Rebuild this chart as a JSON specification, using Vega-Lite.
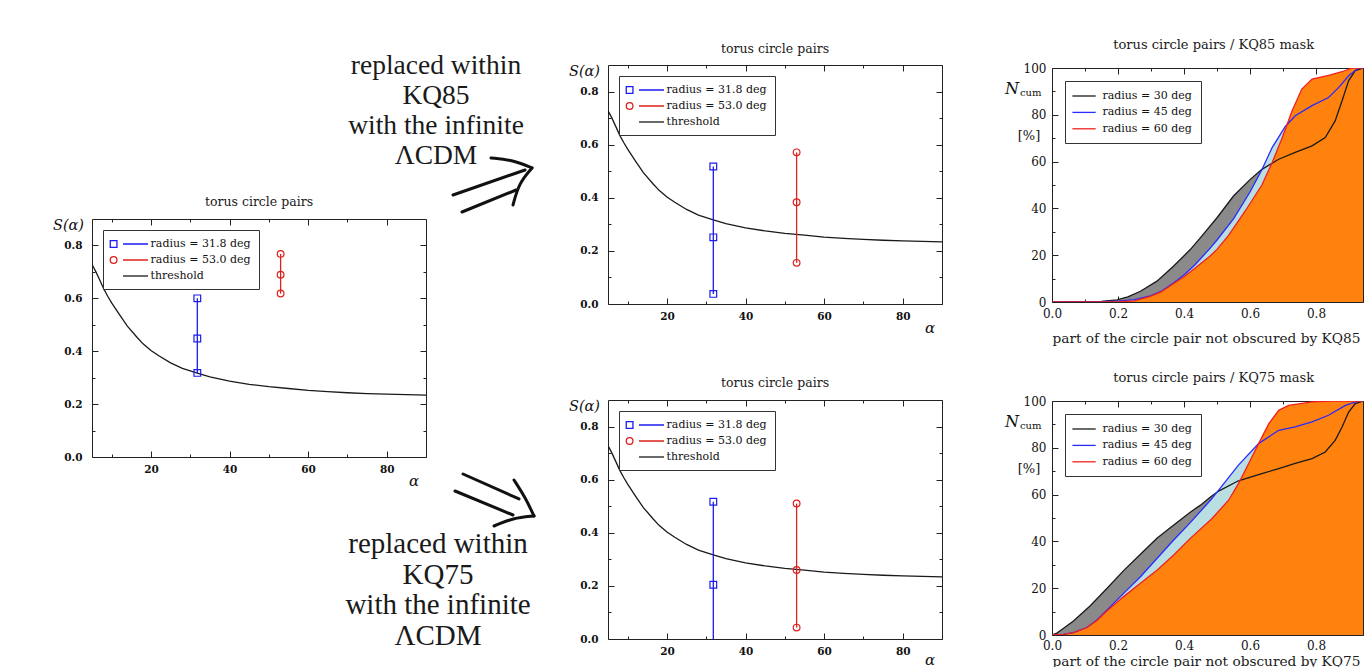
{
  "$schema": "https://vega.github.io/schema/vega-lite/v6.json",
  "padding": 0,
  "background": "white",
  "config": {
    "font": "DejaVu Serif",
    "view": {"stroke": null},
    "axis": {"labelFont": "DejaVu Serif", "labelColor": "#111", "tickColor": "#222", "domain": false, "grid": false, "tickWidth": 1, "labelFlush": false, "labelOverlap": false},
    "legend": {"labelFont": "DejaVu Serif", "labelColor": "#111", "labelFontSize": 11, "strokeColor": "#333", "fillColor": "white", "symbolStrokeWidth": 1.3, "symbolSize": 100, "rowPadding": 4}
  },
  "datasets": {
    "thr": [
      {"alpha": 5, "s": 0.728, "series": "threshold"}, {"alpha": 6, "s": 0.7, "series": "threshold"},
      {"alpha": 7, "s": 0.668, "series": "threshold"}, {"alpha": 8, "s": 0.635, "series": "threshold"},
      {"alpha": 9, "s": 0.608, "series": "threshold"}, {"alpha": 10, "s": 0.583, "series": "threshold"},
      {"alpha": 12, "s": 0.538, "series": "threshold"}, {"alpha": 14, "s": 0.495, "series": "threshold"},
      {"alpha": 16.5, "s": 0.452, "series": "threshold"}, {"alpha": 18, "s": 0.428, "series": "threshold"},
      {"alpha": 20, "s": 0.403, "series": "threshold"}, {"alpha": 22, "s": 0.383, "series": "threshold"},
      {"alpha": 25, "s": 0.356, "series": "threshold"}, {"alpha": 28, "s": 0.335, "series": "threshold"},
      {"alpha": 31.8, "s": 0.317, "series": "threshold"}, {"alpha": 35, "s": 0.303, "series": "threshold"},
      {"alpha": 40, "s": 0.287, "series": "threshold"}, {"alpha": 45, "s": 0.275, "series": "threshold"},
      {"alpha": 50, "s": 0.266, "series": "threshold"}, {"alpha": 55, "s": 0.259, "series": "threshold"},
      {"alpha": 60, "s": 0.252, "series": "threshold"}, {"alpha": 65, "s": 0.247, "series": "threshold"},
      {"alpha": 70, "s": 0.243, "series": "threshold"}, {"alpha": 75, "s": 0.24, "series": "threshold"},
      {"alpha": 80, "s": 0.238, "series": "threshold"}, {"alpha": 85, "s": 0.236, "series": "threshold"},
      {"alpha": 90, "s": 0.234, "series": "threshold"}
    ],
    "spts": [
      {"panel": "left", "series": "radius = 31.8 deg", "alpha": 31.8, "s": 0.318},
      {"panel": "left", "series": "radius = 31.8 deg", "alpha": 31.8, "s": 0.448},
      {"panel": "left", "series": "radius = 31.8 deg", "alpha": 31.8, "s": 0.6},
      {"panel": "left", "series": "radius = 53.0 deg", "alpha": 53, "s": 0.618},
      {"panel": "left", "series": "radius = 53.0 deg", "alpha": 53, "s": 0.689},
      {"panel": "left", "series": "radius = 53.0 deg", "alpha": 53, "s": 0.768},
      {"panel": "kq85", "series": "radius = 31.8 deg", "alpha": 31.8, "s": 0.038},
      {"panel": "kq85", "series": "radius = 31.8 deg", "alpha": 31.8, "s": 0.251},
      {"panel": "kq85", "series": "radius = 31.8 deg", "alpha": 31.8, "s": 0.518},
      {"panel": "kq85", "series": "radius = 53.0 deg", "alpha": 53, "s": 0.155},
      {"panel": "kq85", "series": "radius = 53.0 deg", "alpha": 53, "s": 0.383},
      {"panel": "kq85", "series": "radius = 53.0 deg", "alpha": 53, "s": 0.571},
      {"panel": "kq75", "series": "radius = 31.8 deg", "alpha": 31.8, "s": -0.1},
      {"panel": "kq75", "series": "radius = 31.8 deg", "alpha": 31.8, "s": 0.204},
      {"panel": "kq75", "series": "radius = 31.8 deg", "alpha": 31.8, "s": 0.517},
      {"panel": "kq75", "series": "radius = 53.0 deg", "alpha": 53, "s": 0.043},
      {"panel": "kq75", "series": "radius = 53.0 deg", "alpha": 53, "s": 0.26},
      {"panel": "kq75", "series": "radius = 53.0 deg", "alpha": 53, "s": 0.51}
    ],
    "arrows": [
      {"seg": "t1", "i": 0, "alpha": 96.87, "s": 0.9908}, {"seg": "t1", "i": 1, "alpha": 115.2, "s": 1.0853},
      {"seg": "t2", "i": 0, "alpha": 99.16, "s": 0.9265}, {"seg": "t2", "i": 1, "alpha": 112.91, "s": 1.0097},
      {"seg": "t3", "i": 0, "alpha": 106.54, "s": 1.1307}, {"seg": "t3", "i": 1, "alpha": 112.14, "s": 1.1231}, {"seg": "t3", "i": 2, "alpha": 116.98, "s": 1.0929},
      {"seg": "t4", "i": 0, "alpha": 116.98, "s": 1.0929}, {"seg": "t4", "i": 1, "alpha": 113.67, "s": 1.0361}, {"seg": "t4", "i": 2, "alpha": 112.14, "s": 0.9529},
      {"seg": "b1", "i": 0, "alpha": 99.42, "s": -0.0643}, {"seg": "b1", "i": 1, "alpha": 113.67, "s": -0.1588},
      {"seg": "b2", "i": 0, "alpha": 97.38, "s": -0.1286}, {"seg": "b2", "i": 1, "alpha": 112.14, "s": -0.2193},
      {"seg": "b3", "i": 0, "alpha": 112.4, "s": -0.087}, {"seg": "b3", "i": 1, "alpha": 115.2, "s": -0.1513}, {"seg": "b3", "i": 2, "alpha": 117.49, "s": -0.2231},
      {"seg": "b4", "i": 0, "alpha": 117.49, "s": -0.2231}, {"seg": "b4", "i": 1, "alpha": 112.14, "s": -0.2307}, {"seg": "b4", "i": 2, "alpha": 107.31, "s": -0.2609}
    ],
    "ncum": [
      {"mask": "KQ85", "series": "radius = 30 deg", "x": 0, "n": 0},
      {"mask": "KQ85", "series": "radius = 30 deg", "x": 0.1, "n": 0.1},
      {"mask": "KQ85", "series": "radius = 30 deg", "x": 0.15, "n": 0.3},
      {"mask": "KQ85", "series": "radius = 30 deg", "x": 0.197, "n": 0.9},
      {"mask": "KQ85", "series": "radius = 30 deg", "x": 0.23, "n": 2.2},
      {"mask": "KQ85", "series": "radius = 30 deg", "x": 0.268, "n": 4.6},
      {"mask": "KQ85", "series": "radius = 30 deg", "x": 0.318, "n": 8.9},
      {"mask": "KQ85", "series": "radius = 30 deg", "x": 0.368, "n": 15.3},
      {"mask": "KQ85", "series": "radius = 30 deg", "x": 0.419, "n": 22.4},
      {"mask": "KQ85", "series": "radius = 30 deg", "x": 0.45, "n": 27.5},
      {"mask": "KQ85", "series": "radius = 30 deg", "x": 0.5, "n": 36},
      {"mask": "KQ85", "series": "radius = 30 deg", "x": 0.55, "n": 45.3},
      {"mask": "KQ85", "series": "radius = 30 deg", "x": 0.6, "n": 52.3},
      {"mask": "KQ85", "series": "radius = 30 deg", "x": 0.636, "n": 56.7},
      {"mask": "KQ85", "series": "radius = 30 deg", "x": 0.687, "n": 61},
      {"mask": "KQ85", "series": "radius = 30 deg", "x": 0.737, "n": 63.9},
      {"mask": "KQ85", "series": "radius = 30 deg", "x": 0.788, "n": 66.7},
      {"mask": "KQ85", "series": "radius = 30 deg", "x": 0.828, "n": 70.3},
      {"mask": "KQ85", "series": "radius = 30 deg", "x": 0.858, "n": 77.4},
      {"mask": "KQ85", "series": "radius = 30 deg", "x": 0.879, "n": 86},
      {"mask": "KQ85", "series": "radius = 30 deg", "x": 0.899, "n": 94.6},
      {"mask": "KQ85", "series": "radius = 30 deg", "x": 0.919, "n": 98.9},
      {"mask": "KQ85", "series": "radius = 30 deg", "x": 0.944, "n": 100},
      {"mask": "KQ85", "series": "radius = 30 deg", "x": 0.96, "n": 100},
      {"mask": "KQ85", "series": "radius = 45 deg", "x": 0, "n": 0},
      {"mask": "KQ85", "series": "radius = 45 deg", "x": 0.15, "n": 0.1},
      {"mask": "KQ85", "series": "radius = 45 deg", "x": 0.2, "n": 0.4},
      {"mask": "KQ85", "series": "radius = 45 deg", "x": 0.25, "n": 1},
      {"mask": "KQ85", "series": "radius = 45 deg", "x": 0.298, "n": 2.6},
      {"mask": "KQ85", "series": "radius = 45 deg", "x": 0.33, "n": 4.5},
      {"mask": "KQ85", "series": "radius = 45 deg", "x": 0.368, "n": 8.1},
      {"mask": "KQ85", "series": "radius = 45 deg", "x": 0.4, "n": 11.5},
      {"mask": "KQ85", "series": "radius = 45 deg", "x": 0.434, "n": 16},
      {"mask": "KQ85", "series": "radius = 45 deg", "x": 0.48, "n": 23.1},
      {"mask": "KQ85", "series": "radius = 45 deg", "x": 0.5, "n": 26.5},
      {"mask": "KQ85", "series": "radius = 45 deg", "x": 0.55, "n": 35.5},
      {"mask": "KQ85", "series": "radius = 45 deg", "x": 0.6, "n": 47},
      {"mask": "KQ85", "series": "radius = 45 deg", "x": 0.636, "n": 56.5},
      {"mask": "KQ85", "series": "radius = 45 deg", "x": 0.667, "n": 66},
      {"mask": "KQ85", "series": "radius = 45 deg", "x": 0.707, "n": 75},
      {"mask": "KQ85", "series": "radius = 45 deg", "x": 0.737, "n": 79.6},
      {"mask": "KQ85", "series": "radius = 45 deg", "x": 0.788, "n": 83.9},
      {"mask": "KQ85", "series": "radius = 45 deg", "x": 0.838, "n": 87.4},
      {"mask": "KQ85", "series": "radius = 45 deg", "x": 0.869, "n": 91.7},
      {"mask": "KQ85", "series": "radius = 45 deg", "x": 0.899, "n": 96.7},
      {"mask": "KQ85", "series": "radius = 45 deg", "x": 0.929, "n": 100},
      {"mask": "KQ85", "series": "radius = 45 deg", "x": 0.96, "n": 100},
      {"mask": "KQ85", "series": "radius = 60 deg", "x": 0, "n": 0},
      {"mask": "KQ85", "series": "radius = 60 deg", "x": 0.2, "n": 0.1},
      {"mask": "KQ85", "series": "radius = 60 deg", "x": 0.25, "n": 0.5},
      {"mask": "KQ85", "series": "radius = 60 deg", "x": 0.268, "n": 1.2},
      {"mask": "KQ85", "series": "radius = 60 deg", "x": 0.298, "n": 2.4},
      {"mask": "KQ85", "series": "radius = 60 deg", "x": 0.33, "n": 4.3},
      {"mask": "KQ85", "series": "radius = 60 deg", "x": 0.368, "n": 7.8},
      {"mask": "KQ85", "series": "radius = 60 deg", "x": 0.4, "n": 10.8},
      {"mask": "KQ85", "series": "radius = 60 deg", "x": 0.434, "n": 14.5},
      {"mask": "KQ85", "series": "radius = 60 deg", "x": 0.48, "n": 19.8},
      {"mask": "KQ85", "series": "radius = 60 deg", "x": 0.5, "n": 22.5},
      {"mask": "KQ85", "series": "radius = 60 deg", "x": 0.535, "n": 28.5},
      {"mask": "KQ85", "series": "radius = 60 deg", "x": 0.586, "n": 39},
      {"mask": "KQ85", "series": "radius = 60 deg", "x": 0.636, "n": 50},
      {"mask": "KQ85", "series": "radius = 60 deg", "x": 0.667, "n": 59.5},
      {"mask": "KQ85", "series": "radius = 60 deg", "x": 0.697, "n": 70},
      {"mask": "KQ85", "series": "radius = 60 deg", "x": 0.727, "n": 81.5},
      {"mask": "KQ85", "series": "radius = 60 deg", "x": 0.757, "n": 91},
      {"mask": "KQ85", "series": "radius = 60 deg", "x": 0.788, "n": 95.3},
      {"mask": "KQ85", "series": "radius = 60 deg", "x": 0.838, "n": 96.8},
      {"mask": "KQ85", "series": "radius = 60 deg", "x": 0.879, "n": 98.4},
      {"mask": "KQ85", "series": "radius = 60 deg", "x": 0.909, "n": 100},
      {"mask": "KQ85", "series": "radius = 60 deg", "x": 0.96, "n": 100},
      {"mask": "KQ75", "series": "radius = 30 deg", "x": 0, "n": 0},
      {"mask": "KQ75", "series": "radius = 30 deg", "x": 0.015, "n": 0.8},
      {"mask": "KQ75", "series": "radius = 30 deg", "x": 0.035, "n": 2.9},
      {"mask": "KQ75", "series": "radius = 30 deg", "x": 0.065, "n": 6},
      {"mask": "KQ75", "series": "radius = 30 deg", "x": 0.116, "n": 12.5},
      {"mask": "KQ75", "series": "radius = 30 deg", "x": 0.167, "n": 20},
      {"mask": "KQ75", "series": "radius = 30 deg", "x": 0.217, "n": 27.5},
      {"mask": "KQ75", "series": "radius = 30 deg", "x": 0.268, "n": 34.5},
      {"mask": "KQ75", "series": "radius = 30 deg", "x": 0.318, "n": 41.3},
      {"mask": "KQ75", "series": "radius = 30 deg", "x": 0.368, "n": 46.9},
      {"mask": "KQ75", "series": "radius = 30 deg", "x": 0.419, "n": 52.5},
      {"mask": "KQ75", "series": "radius = 30 deg", "x": 0.45, "n": 55.5},
      {"mask": "KQ75", "series": "radius = 30 deg", "x": 0.48, "n": 59},
      {"mask": "KQ75", "series": "radius = 30 deg", "x": 0.505, "n": 61.5},
      {"mask": "KQ75", "series": "radius = 30 deg", "x": 0.565, "n": 65.9},
      {"mask": "KQ75", "series": "radius = 30 deg", "x": 0.636, "n": 69},
      {"mask": "KQ75", "series": "radius = 30 deg", "x": 0.687, "n": 71.1},
      {"mask": "KQ75", "series": "radius = 30 deg", "x": 0.737, "n": 73.3},
      {"mask": "KQ75", "series": "radius = 30 deg", "x": 0.788, "n": 75.4},
      {"mask": "KQ75", "series": "radius = 30 deg", "x": 0.828, "n": 78.2},
      {"mask": "KQ75", "series": "radius = 30 deg", "x": 0.858, "n": 83.2},
      {"mask": "KQ75", "series": "radius = 30 deg", "x": 0.879, "n": 88.9},
      {"mask": "KQ75", "series": "radius = 30 deg", "x": 0.899, "n": 95.3},
      {"mask": "KQ75", "series": "radius = 30 deg", "x": 0.919, "n": 98.9},
      {"mask": "KQ75", "series": "radius = 30 deg", "x": 0.944, "n": 100},
      {"mask": "KQ75", "series": "radius = 30 deg", "x": 0.96, "n": 100},
      {"mask": "KQ75", "series": "radius = 45 deg", "x": 0, "n": 0},
      {"mask": "KQ75", "series": "radius = 45 deg", "x": 0.035, "n": 0.3},
      {"mask": "KQ75", "series": "radius = 45 deg", "x": 0.065, "n": 1},
      {"mask": "KQ75", "series": "radius = 45 deg", "x": 0.106, "n": 3.2},
      {"mask": "KQ75", "series": "radius = 45 deg", "x": 0.136, "n": 6.4},
      {"mask": "KQ75", "series": "radius = 45 deg", "x": 0.167, "n": 10.7},
      {"mask": "KQ75", "series": "radius = 45 deg", "x": 0.217, "n": 17.8},
      {"mask": "KQ75", "series": "radius = 45 deg", "x": 0.268, "n": 24.9},
      {"mask": "KQ75", "series": "radius = 45 deg", "x": 0.318, "n": 32.7},
      {"mask": "KQ75", "series": "radius = 45 deg", "x": 0.368, "n": 40.5},
      {"mask": "KQ75", "series": "radius = 45 deg", "x": 0.419, "n": 48},
      {"mask": "KQ75", "series": "radius = 45 deg", "x": 0.48, "n": 57.6},
      {"mask": "KQ75", "series": "radius = 45 deg", "x": 0.505, "n": 61.9},
      {"mask": "KQ75", "series": "radius = 45 deg", "x": 0.565, "n": 72.6},
      {"mask": "KQ75", "series": "radius = 45 deg", "x": 0.626, "n": 81.8},
      {"mask": "KQ75", "series": "radius = 45 deg", "x": 0.687, "n": 87.5},
      {"mask": "KQ75", "series": "radius = 45 deg", "x": 0.737, "n": 88.9},
      {"mask": "KQ75", "series": "radius = 45 deg", "x": 0.788, "n": 91.1},
      {"mask": "KQ75", "series": "radius = 45 deg", "x": 0.838, "n": 93.9},
      {"mask": "KQ75", "series": "radius = 45 deg", "x": 0.889, "n": 98.1},
      {"mask": "KQ75", "series": "radius = 45 deg", "x": 0.929, "n": 100},
      {"mask": "KQ75", "series": "radius = 45 deg", "x": 0.96, "n": 100},
      {"mask": "KQ75", "series": "radius = 60 deg", "x": 0, "n": 0},
      {"mask": "KQ75", "series": "radius = 60 deg", "x": 0.035, "n": 0.3},
      {"mask": "KQ75", "series": "radius = 60 deg", "x": 0.065, "n": 1},
      {"mask": "KQ75", "series": "radius = 60 deg", "x": 0.106, "n": 3.2},
      {"mask": "KQ75", "series": "radius = 60 deg", "x": 0.136, "n": 6.2},
      {"mask": "KQ75", "series": "radius = 60 deg", "x": 0.167, "n": 10.4},
      {"mask": "KQ75", "series": "radius = 60 deg", "x": 0.217, "n": 16.4},
      {"mask": "KQ75", "series": "radius = 60 deg", "x": 0.268, "n": 22.1},
      {"mask": "KQ75", "series": "radius = 60 deg", "x": 0.318, "n": 27.7},
      {"mask": "KQ75", "series": "radius = 60 deg", "x": 0.368, "n": 34.1},
      {"mask": "KQ75", "series": "radius = 60 deg", "x": 0.419, "n": 41.3},
      {"mask": "KQ75", "series": "radius = 60 deg", "x": 0.485, "n": 49.8},
      {"mask": "KQ75", "series": "radius = 60 deg", "x": 0.535, "n": 57.6},
      {"mask": "KQ75", "series": "radius = 60 deg", "x": 0.565, "n": 64.7},
      {"mask": "KQ75", "series": "radius = 60 deg", "x": 0.596, "n": 73.3},
      {"mask": "KQ75", "series": "radius = 60 deg", "x": 0.626, "n": 81.8},
      {"mask": "KQ75", "series": "radius = 60 deg", "x": 0.657, "n": 90.3},
      {"mask": "KQ75", "series": "radius = 60 deg", "x": 0.687, "n": 96},
      {"mask": "KQ75", "series": "radius = 60 deg", "x": 0.717, "n": 98.1},
      {"mask": "KQ75", "series": "radius = 60 deg", "x": 0.788, "n": 99.6},
      {"mask": "KQ75", "series": "radius = 60 deg", "x": 0.85, "n": 100},
      {"mask": "KQ75", "series": "radius = 60 deg", "x": 0.96, "n": 100}
    ]
  },
  "spacing": 0,
  "resolve": {"scale": {"stroke": "independent"}, "legend": {"stroke": "independent"}},
  "hconcat": [
    {
      "spacing": 0,
      "resolve": {"scale": {"stroke": "independent"}, "legend": {"stroke": "independent"}},
      "vconcat": [
        {"width": 100, "height": 1, "data": {"values": []}, "mark": "point", "encoding": {}},
        {
          "width": 334, "height": 238,
          "view": {"stroke": "#222", "strokeWidth": 1},
          "resolve": {"axis": {"x": "independent", "y": "independent"}},
          "layer": [
            {
              "data": {"name": "thr"},
              "mark": {"type": "line", "strokeWidth": 1.3, "clip": true},
              "encoding": {
                "x": {"field": "alpha", "type": "quantitative", "scale": {"domain": [5, 90], "nice": false, "zero": false},
                  "axis": {"orient": "bottom", "values": [10, 20, 30, 40, 50, 60, 70, 80, 90], "labelExpr": "datum.value % 20 === 0 ? datum.label : ''", "tickSize": {"condition": {"test": "datum.value % 20 === 0", "value": -6}, "value": -3}, "labelPadding": 13, "labelFontSize": 10.5, "labelFontWeight": "bold", "title": null}},
                "y": {"field": "s", "type": "quantitative", "scale": {"domain": [0, 0.9], "nice": false},
                  "axis": {"orient": "left", "values": [0, 0.1, 0.2, 0.3, 0.4, 0.5, 0.6, 0.7, 0.8], "format": ".1f", "labelExpr": "round(datum.value*10) % 2 === 0 ? datum.label : ''", "tickSize": {"condition": {"test": "round(datum.value*10) % 2 === 0", "value": -6}, "value": -3}, "labelPadding": 16, "labelFontSize": 10.5, "labelFontWeight": "bold", "title": null}},
                "stroke": {"field": "series", "type": "nominal",
                  "scale": {"domain": ["radius = 31.8 deg", "radius = 53.0 deg", "threshold"], "range": ["#1c1cf0", "#e0201c", "#1a1a1a"]},
                  "legend": {"title": null, "orient": "top-left", "offset": 11, "padding": 8, "labelOffset": 31, "symbolOffset": -3.4,
                    "encode": {"symbols": {"update": {"shape": {"signal": "datum.value === 'threshold' ? 'M1.88,0H6.88' : datum.value === 'radius = 31.8 deg' ? 'M-0.67,-0.67H0.67V0.67H-0.67ZM1.88,0H6.88' : 'M0.67,0A0.67,0.67,0,1,1,-0.67,0A0.67,0.67,0,1,1,0.67,0ZM1.88,0H6.88'"}, "fill": {"value": "transparent"}}}}}}
              }
            },
            {
              "data": {"name": "spts"},
              "transform": [{"filter": "datum.panel === 'left'"}],
              "mark": {"type": "line", "strokeWidth": 1.3, "clip": true},
              "encoding": {
                "x": {"field": "alpha", "type": "quantitative", "axis": {"orient": "top", "values": [10, 20, 30, 40, 50, 60, 70, 80, 90], "labels": false, "tickSize": {"condition": {"test": "datum.value % 20 === 0", "value": -6}, "value": -3}, "title": null}},
                "y": {"field": "s", "type": "quantitative", "axis": {"orient": "right", "values": [0, 0.1, 0.2, 0.3, 0.4, 0.5, 0.6, 0.7, 0.8], "labels": false, "tickSize": {"condition": {"test": "round(datum.value*10) % 2 === 0", "value": -6}, "value": -3}, "title": null}},
                "stroke": {"field": "series", "type": "nominal"},
                "order": {"field": "s"}
              }
            },
            {
              "data": {"name": "spts"},
              "transform": [{"filter": "datum.panel === 'left' && datum.series === 'radius = 31.8 deg'"}],
              "mark": {"type": "point", "shape": "square", "filled": false, "size": 45, "strokeWidth": 1.2, "opacity": 1, "clip": true},
              "encoding": {"x": {"field": "alpha", "type": "quantitative", "axis": null}, "y": {"field": "s", "type": "quantitative", "axis": null}, "stroke": {"field": "series", "type": "nominal"}}
            },
            {
              "data": {"name": "spts"},
              "transform": [{"filter": "datum.panel === 'left' && datum.series === 'radius = 53.0 deg'"}],
              "mark": {"type": "point", "shape": "circle", "filled": false, "size": 45, "strokeWidth": 1.2, "opacity": 1, "clip": true},
              "encoding": {"x": {"field": "alpha", "type": "quantitative", "axis": null}, "y": {"field": "s", "type": "quantitative", "axis": null}, "stroke": {"field": "series", "type": "nominal"}}
            },
            {
              "data": {"values": [{}]},
              "mark": {"type": "text", "text": "torus circle pairs", "fontSize": 12.5, "align": "center", "baseline": "middle", "dy": -16.6, "color": "#1a1a1a"},
              "encoding": {"x": {"datum": 47.5, "type": "quantitative", "axis": null}, "y": {"datum": 0.9, "type": "quantitative", "axis": null}}
            },
            {
              "data": {"values": [{}]},
              "mark": {"type": "text", "text": "S(α)", "fontStyle": "italic", "fontSize": 14.5, "align": "right", "baseline": "middle", "dx": -8, "dy": 7, "color": "#111"},
              "encoding": {"x": {"datum": 5, "type": "quantitative", "axis": null}, "y": {"datum": 0.9, "type": "quantitative", "axis": null}}
            },
            {
              "data": {"values": [{}]},
              "mark": {"type": "text", "text": "α", "fontStyle": "italic", "fontSize": 15, "align": "center", "baseline": "middle", "dx": -12, "dy": 24, "color": "#111"},
              "encoding": {"x": {"datum": 90, "type": "quantitative", "axis": null}, "y": {"datum": 0, "type": "quantitative", "axis": null}}
            },
            {
              "data": {"values": [{}]},
              "mark": {"type": "text", "font": "Liberation Serif", "fontSize": 27.5, "lineHeight": 30, "align": "center", "baseline": "middle", "dx": 10, "dy": -153, "color": "#1a1a1a", "text": ["replaced within", "KQ85", "with the infinite", "ΛCDM"]},
              "encoding": {"x": {"datum": 90, "type": "quantitative", "axis": null}, "y": {"datum": 0.9, "type": "quantitative", "axis": null}}
            },
            {
              "data": {"values": [{}]},
              "mark": {"type": "text", "font": "Liberation Serif", "fontSize": 29, "lineHeight": 30.7, "align": "center", "baseline": "middle", "dx": 12, "dy": 87, "color": "#1a1a1a", "text": ["replaced within", "KQ75", "with the infinite", "ΛCDM"]},
              "encoding": {"x": {"datum": 90, "type": "quantitative", "axis": null}, "y": {"datum": 0, "type": "quantitative", "axis": null}}
            },
            {
              "data": {"name": "arrows"},
              "mark": {"type": "line", "strokeWidth": 3, "color": "#111", "interpolate": "basis", "strokeCap": "round", "clip": false},
              "encoding": {
                "x": {"field": "alpha", "type": "quantitative", "axis": null},
                "y": {"field": "s", "type": "quantitative", "axis": null},
                "detail": {"field": "seg"},
                "order": {"field": "i"}
              }
            },
            {
              "data": {"values": [{}]},
              "mark": {"type": "text", "text": ".", "fontSize": 1, "opacity": 0, "align": "left", "baseline": "top", "dx": -91, "dy": -217},
              "encoding": {"x": {"datum": 5, "type": "quantitative", "axis": null}, "y": {"datum": 0.9, "type": "quantitative", "axis": null}}
            },
            {
              "data": {"values": [{}]},
              "mark": {"type": "text", "text": ".", "fontSize": 1, "opacity": 0, "align": "right", "baseline": "top", "dx": 457, "dy": -217},
              "encoding": {"x": {"datum": 5, "type": "quantitative", "axis": null}, "y": {"datum": 0.9, "type": "quantitative", "axis": null}}
            }
          ]
        }
      ]
    },
    {
      "spacing": 0,
      "resolve": {"scale": {"stroke": "independent"}, "legend": {"stroke": "independent"}},
      "vconcat": [
        {"width": 100, "height": 34, "data": {"values": []}, "mark": "point", "encoding": {}},
        {
          "width": 334, "height": 239,
          "view": {"stroke": "#222", "strokeWidth": 1},
          "resolve": {"axis": {"x": "independent", "y": "independent"}},
          "layer": [
            {
              "data": {"name": "thr"},
              "mark": {"type": "line", "strokeWidth": 1.3, "clip": true},
              "encoding": {
                "x": {"field": "alpha", "type": "quantitative", "scale": {"domain": [5, 90], "nice": false, "zero": false},
                  "axis": {"orient": "bottom", "values": [10, 20, 30, 40, 50, 60, 70, 80, 90], "labelExpr": "datum.value % 20 === 0 ? datum.label : ''", "tickSize": {"condition": {"test": "datum.value % 20 === 0", "value": -6}, "value": -3}, "labelPadding": 13, "labelFontSize": 10.5, "labelFontWeight": "bold", "title": null}},
                "y": {"field": "s", "type": "quantitative", "scale": {"domain": [0, 0.9], "nice": false},
                  "axis": {"orient": "left", "values": [0, 0.1, 0.2, 0.3, 0.4, 0.5, 0.6, 0.7, 0.8], "format": ".1f", "labelExpr": "round(datum.value*10) % 2 === 0 ? datum.label : ''", "tickSize": {"condition": {"test": "round(datum.value*10) % 2 === 0", "value": -6}, "value": -3}, "labelPadding": 16, "labelFontSize": 10.5, "labelFontWeight": "bold", "title": null}},
                "stroke": {"field": "series", "type": "nominal",
                  "scale": {"domain": ["radius = 31.8 deg", "radius = 53.0 deg", "threshold"], "range": ["#1c1cf0", "#e0201c", "#1a1a1a"]},
                  "legend": {"title": null, "orient": "top-left", "offset": 11, "padding": 8, "labelOffset": 31, "symbolOffset": -3.4,
                    "encode": {"symbols": {"update": {"shape": {"signal": "datum.value === 'threshold' ? 'M1.88,0H6.88' : datum.value === 'radius = 31.8 deg' ? 'M-0.67,-0.67H0.67V0.67H-0.67ZM1.88,0H6.88' : 'M0.67,0A0.67,0.67,0,1,1,-0.67,0A0.67,0.67,0,1,1,0.67,0ZM1.88,0H6.88'"}, "fill": {"value": "transparent"}}}}}}
              }
            },
            {
              "data": {"name": "spts"},
              "transform": [{"filter": "datum.panel === 'kq85'"}],
              "mark": {"type": "line", "strokeWidth": 1.3, "clip": true},
              "encoding": {
                "x": {"field": "alpha", "type": "quantitative", "axis": {"orient": "top", "values": [10, 20, 30, 40, 50, 60, 70, 80, 90], "labels": false, "tickSize": {"condition": {"test": "datum.value % 20 === 0", "value": -6}, "value": -3}, "title": null}},
                "y": {"field": "s", "type": "quantitative", "axis": {"orient": "right", "values": [0, 0.1, 0.2, 0.3, 0.4, 0.5, 0.6, 0.7, 0.8], "labels": false, "tickSize": {"condition": {"test": "round(datum.value*10) % 2 === 0", "value": -6}, "value": -3}, "title": null}},
                "stroke": {"field": "series", "type": "nominal"},
                "order": {"field": "s"}
              }
            },
            {
              "data": {"name": "spts"},
              "transform": [{"filter": "datum.panel === 'kq85' && datum.series === 'radius = 31.8 deg'"}],
              "mark": {"type": "point", "shape": "square", "filled": false, "size": 45, "strokeWidth": 1.2, "opacity": 1, "clip": true},
              "encoding": {"x": {"field": "alpha", "type": "quantitative", "axis": null}, "y": {"field": "s", "type": "quantitative", "axis": null}, "stroke": {"field": "series", "type": "nominal"}}
            },
            {
              "data": {"name": "spts"},
              "transform": [{"filter": "datum.panel === 'kq85' && datum.series === 'radius = 53.0 deg'"}],
              "mark": {"type": "point", "shape": "circle", "filled": false, "size": 45, "strokeWidth": 1.2, "opacity": 1, "clip": true},
              "encoding": {"x": {"field": "alpha", "type": "quantitative", "axis": null}, "y": {"field": "s", "type": "quantitative", "axis": null}, "stroke": {"field": "series", "type": "nominal"}}
            },
            {
              "data": {"values": [{}]},
              "mark": {"type": "text", "text": "torus circle pairs", "fontSize": 12.5, "align": "center", "baseline": "middle", "dy": -16.3, "color": "#1a1a1a"},
              "encoding": {"x": {"datum": 47.5, "type": "quantitative", "axis": null}, "y": {"datum": 0.9, "type": "quantitative", "axis": null}}
            },
            {
              "data": {"values": [{}]},
              "mark": {"type": "text", "text": "S(α)", "fontStyle": "italic", "fontSize": 14.5, "align": "right", "baseline": "middle", "dx": -8, "dy": 7, "color": "#111"},
              "encoding": {"x": {"datum": 5, "type": "quantitative", "axis": null}, "y": {"datum": 0.9, "type": "quantitative", "axis": null}}
            },
            {
              "data": {"values": [{}]},
              "mark": {"type": "text", "text": "α", "fontStyle": "italic", "fontSize": 15, "align": "center", "baseline": "middle", "dx": -12, "dy": 24, "color": "#111"},
              "encoding": {"x": {"datum": 90, "type": "quantitative", "axis": null}, "y": {"datum": 0, "type": "quantitative", "axis": null}}
            },
            {
              "data": {"values": [{}]},
              "mark": {"type": "text", "text": ".", "fontSize": 1, "opacity": 0, "align": "left", "baseline": "top", "dx": -57, "dy": -30},
              "encoding": {"x": {"datum": 5, "type": "quantitative", "axis": null}, "y": {"datum": 0.9, "type": "quantitative", "axis": null}}
            },
            {
              "data": {"values": [{}]},
              "mark": {"type": "text", "text": ".", "fontSize": 1, "opacity": 0, "align": "right", "baseline": "top", "dx": 10, "dy": -30},
              "encoding": {"x": {"datum": 90, "type": "quantitative", "axis": null}, "y": {"datum": 0.9, "type": "quantitative", "axis": null}}
            },
            {
              "data": {"values": [{}]},
              "mark": {"type": "text", "text": ".", "fontSize": 1, "opacity": 0, "align": "left", "baseline": "bottom", "dx": 0, "dy": 54},
              "encoding": {"x": {"datum": 5, "type": "quantitative", "axis": null}, "y": {"datum": 0, "type": "quantitative", "axis": null}}
            }
          ]
        },
        {
          "width": 334, "height": 239,
          "view": {"stroke": "#222", "strokeWidth": 1},
          "resolve": {"axis": {"x": "independent", "y": "independent"}},
          "layer": [
            {
              "data": {"name": "thr"},
              "mark": {"type": "line", "strokeWidth": 1.3, "clip": true},
              "encoding": {
                "x": {"field": "alpha", "type": "quantitative", "scale": {"domain": [5, 90], "nice": false, "zero": false},
                  "axis": {"orient": "bottom", "values": [10, 20, 30, 40, 50, 60, 70, 80, 90], "labelExpr": "datum.value % 20 === 0 ? datum.label : ''", "tickSize": {"condition": {"test": "datum.value % 20 === 0", "value": -6}, "value": -3}, "labelPadding": 13, "labelFontSize": 10.5, "labelFontWeight": "bold", "title": null}},
                "y": {"field": "s", "type": "quantitative", "scale": {"domain": [0, 0.9], "nice": false},
                  "axis": {"orient": "left", "values": [0, 0.1, 0.2, 0.3, 0.4, 0.5, 0.6, 0.7, 0.8], "format": ".1f", "labelExpr": "round(datum.value*10) % 2 === 0 ? datum.label : ''", "tickSize": {"condition": {"test": "round(datum.value*10) % 2 === 0", "value": -6}, "value": -3}, "labelPadding": 16, "labelFontSize": 10.5, "labelFontWeight": "bold", "title": null}},
                "stroke": {"field": "series", "type": "nominal",
                  "scale": {"domain": ["radius = 31.8 deg", "radius = 53.0 deg", "threshold"], "range": ["#1c1cf0", "#e0201c", "#1a1a1a"]},
                  "legend": {"title": null, "orient": "top-left", "offset": 11, "padding": 8, "labelOffset": 31, "symbolOffset": -3.4,
                    "encode": {"symbols": {"update": {"shape": {"signal": "datum.value === 'threshold' ? 'M1.88,0H6.88' : datum.value === 'radius = 31.8 deg' ? 'M-0.67,-0.67H0.67V0.67H-0.67ZM1.88,0H6.88' : 'M0.67,0A0.67,0.67,0,1,1,-0.67,0A0.67,0.67,0,1,1,0.67,0ZM1.88,0H6.88'"}, "fill": {"value": "transparent"}}}}}}
              }
            },
            {
              "data": {"name": "spts"},
              "transform": [{"filter": "datum.panel === 'kq75'"}],
              "mark": {"type": "line", "strokeWidth": 1.3, "clip": true},
              "encoding": {
                "x": {"field": "alpha", "type": "quantitative", "axis": {"orient": "top", "values": [10, 20, 30, 40, 50, 60, 70, 80, 90], "labels": false, "tickSize": {"condition": {"test": "datum.value % 20 === 0", "value": -6}, "value": -3}, "title": null}},
                "y": {"field": "s", "type": "quantitative", "axis": {"orient": "right", "values": [0, 0.1, 0.2, 0.3, 0.4, 0.5, 0.6, 0.7, 0.8], "labels": false, "tickSize": {"condition": {"test": "round(datum.value*10) % 2 === 0", "value": -6}, "value": -3}, "title": null}},
                "stroke": {"field": "series", "type": "nominal"},
                "order": {"field": "s"}
              }
            },
            {
              "data": {"name": "spts"},
              "transform": [{"filter": "datum.panel === 'kq75' && datum.series === 'radius = 31.8 deg'"}],
              "mark": {"type": "point", "shape": "square", "filled": false, "size": 45, "strokeWidth": 1.2, "opacity": 1, "clip": true},
              "encoding": {"x": {"field": "alpha", "type": "quantitative", "axis": null}, "y": {"field": "s", "type": "quantitative", "axis": null}, "stroke": {"field": "series", "type": "nominal"}}
            },
            {
              "data": {"name": "spts"},
              "transform": [{"filter": "datum.panel === 'kq75' && datum.series === 'radius = 53.0 deg'"}],
              "mark": {"type": "point", "shape": "circle", "filled": false, "size": 45, "strokeWidth": 1.2, "opacity": 1, "clip": true},
              "encoding": {"x": {"field": "alpha", "type": "quantitative", "axis": null}, "y": {"field": "s", "type": "quantitative", "axis": null}, "stroke": {"field": "series", "type": "nominal"}}
            },
            {
              "data": {"values": [{}]},
              "mark": {"type": "text", "text": "torus circle pairs", "fontSize": 12.5, "align": "center", "baseline": "middle", "dy": -17, "color": "#1a1a1a"},
              "encoding": {"x": {"datum": 47.5, "type": "quantitative", "axis": null}, "y": {"datum": 0.9, "type": "quantitative", "axis": null}}
            },
            {
              "data": {"values": [{}]},
              "mark": {"type": "text", "text": "S(α)", "fontStyle": "italic", "fontSize": 14.5, "align": "right", "baseline": "middle", "dx": -8, "dy": 7, "color": "#111"},
              "encoding": {"x": {"datum": 5, "type": "quantitative", "axis": null}, "y": {"datum": 0.9, "type": "quantitative", "axis": null}}
            },
            {
              "data": {"values": [{}]},
              "mark": {"type": "text", "text": "α", "fontStyle": "italic", "fontSize": 15, "align": "center", "baseline": "middle", "dx": -12, "dy": 21, "color": "#111"},
              "encoding": {"x": {"datum": 90, "type": "quantitative", "axis": null}, "y": {"datum": 0, "type": "quantitative", "axis": null}}
            },
            {
              "data": {"values": [{}]},
              "mark": {"type": "text", "text": ".", "fontSize": 1, "opacity": 0, "align": "left", "baseline": "top", "dx": -57, "dy": -40},
              "encoding": {"x": {"datum": 5, "type": "quantitative", "axis": null}, "y": {"datum": 0.9, "type": "quantitative", "axis": null}}
            },
            {
              "data": {"values": [{}]},
              "mark": {"type": "text", "text": ".", "fontSize": 1, "opacity": 0, "align": "right", "baseline": "top", "dx": 10, "dy": -40},
              "encoding": {"x": {"datum": 90, "type": "quantitative", "axis": null}, "y": {"datum": 0.9, "type": "quantitative", "axis": null}}
            }
          ]
        }
      ]
    },
    {
      "spacing": 0,
      "resolve": {"scale": {"stroke": "independent"}, "legend": {"stroke": "independent"}},
      "vconcat": [
        {"width": 100, "height": 31, "data": {"values": []}, "mark": "point", "encoding": {}},
        {
          "width": 311, "height": 234,
          "view": {"stroke": "#222", "strokeWidth": 1},
          "resolve": {"axis": {"x": "independent", "y": "independent"}},
          "layer": [
            {
              "data": {"name": "ncum"},
              "transform": [{"filter": "datum.mask === 'KQ85' && datum.series === 'radius = 30 deg'"}],
              "mark": {"type": "area", "color": "#8a8a8a", "opacity": 1, "clip": true},
              "encoding": {
                "x": {"field": "x", "type": "quantitative", "scale": {"domain": [0, 0.9424], "nice": false, "zero": true},
                  "axis": {"orient": "bottom", "values": [0, 0.1, 0.2, 0.3, 0.4, 0.5, 0.6, 0.7, 0.8, 0.9], "format": ".1f", "labelExpr": "round(datum.value*10) % 2 === 0 ? datum.label : ''", "tickSize": {"condition": {"test": "round(datum.value*10) % 2 === 0", "value": -6}, "value": -3}, "labelPadding": 12, "labelFontSize": 12, "title": "part of the circle pair not obscured by KQ85", "titleFont": "DejaVu Serif", "titleFontWeight": "normal", "titleFontSize": 13.7, "titleColor": "#1a1a1a", "titleAnchor": "start", "titleAlign": "left", "titlePadding": 9}},
                "y": {"field": "n", "type": "quantitative", "scale": {"domain": [0, 100], "nice": false},
                  "axis": {"orient": "left", "values": [0, 10, 20, 30, 40, 50, 60, 70, 80, 90, 100], "labelExpr": "datum.value % 20 === 0 ? datum.label : ''", "tickSize": {"condition": {"test": "datum.value % 20 === 0", "value": -6}, "value": -3}, "labelPadding": 12, "labelFontSize": 12, "title": null}}
              }
            },
            {
              "data": {"name": "ncum"},
              "transform": [{"filter": "datum.mask === 'KQ85' && datum.series === 'radius = 45 deg'"}],
              "mark": {"type": "area", "color": "#b9dfe3", "opacity": 1, "clip": true},
              "encoding": {"x": {"field": "x", "type": "quantitative", "axis": null}, "y": {"field": "n", "type": "quantitative", "axis": null}}
            },
            {
              "data": {"name": "ncum"},
              "transform": [{"filter": "datum.mask === 'KQ85' && datum.series === 'radius = 60 deg'"}],
              "mark": {"type": "area", "color": "#ff820f", "opacity": 1, "clip": true},
              "encoding": {"x": {"field": "x", "type": "quantitative", "axis": null}, "y": {"field": "n", "type": "quantitative", "axis": null}}
            },
            {
              "data": {"name": "ncum"},
              "transform": [{"filter": "datum.mask === 'KQ85'"}],
              "mark": {"type": "line", "strokeWidth": 1.3, "clip": true},
              "encoding": {
                "x": {"field": "x", "type": "quantitative", "axis": {"orient": "top", "values": [0, 0.1, 0.2, 0.3, 0.4, 0.5, 0.6, 0.7, 0.8, 0.9], "labels": false, "tickSize": {"condition": {"test": "round(datum.value*10) % 2 === 0", "value": -6}, "value": -3}, "title": null}},
                "y": {"field": "n", "type": "quantitative", "axis": {"orient": "right", "values": [0, 10, 20, 30, 40, 50, 60, 70, 80, 90, 100], "labels": false, "tickSize": {"condition": {"test": "datum.value % 20 === 0", "value": -6}, "value": -3}, "title": null}},
                "stroke": {"field": "series", "type": "nominal",
                  "scale": {"domain": ["radius = 30 deg", "radius = 45 deg", "radius = 60 deg"], "range": ["#1a1a1a", "#2a2aff", "#f02020"]},
                  "legend": {"title": null, "orient": "top-left", "offset": 13, "padding": 9, "rowPadding": 5.4, "labelOffset": 17.4, "symbolOffset": -1,
                    "encode": {"symbols": {"update": {"shape": {"value": "M-1.32,0H3.34"}, "fill": {"value": "transparent"}}}}}},
                "order": {"field": "x"}
              }
            },
            {
              "data": {"values": [{}]},
              "mark": {"type": "text", "text": "torus circle pairs / KQ85 mask", "fontSize": 13, "align": "center", "baseline": "middle", "dy": -23.3, "color": "#1a1a1a"},
              "encoding": {"x": {"datum": 0.49, "type": "quantitative", "axis": null}, "y": {"datum": 100, "type": "quantitative", "axis": null}}
            },
            {
              "data": {"values": [{}]},
              "mark": {"type": "text", "text": "N", "fontStyle": "italic", "fontSize": 16, "align": "center", "baseline": "middle", "dx": -40, "color": "#111"},
              "encoding": {"x": {"datum": 0, "type": "quantitative", "axis": null}, "y": {"datum": 91, "type": "quantitative", "axis": null}}
            },
            {
              "data": {"values": [{}]},
              "mark": {"type": "text", "text": "cum", "fontSize": 10, "align": "left", "baseline": "middle", "dx": -32, "dy": 4, "color": "#111"},
              "encoding": {"x": {"datum": 0, "type": "quantitative", "axis": null}, "y": {"datum": 91, "type": "quantitative", "axis": null}}
            },
            {
              "data": {"values": [{}]},
              "mark": {"type": "text", "text": "[%]", "fontSize": 13, "align": "center", "baseline": "middle", "dx": -23, "color": "#111"},
              "encoding": {"x": {"datum": 0, "type": "quantitative", "axis": null}, "y": {"datum": 71, "type": "quantitative", "axis": null}}
            },
            {
              "data": {"values": [{}]},
              "mark": {"type": "text", "text": ".", "fontSize": 1, "opacity": 0, "align": "left", "baseline": "top", "dx": -98, "dy": -36},
              "encoding": {"x": {"datum": 0, "type": "quantitative", "axis": null}, "y": {"datum": 100, "type": "quantitative", "axis": null}}
            },
            {
              "data": {"values": [{}]},
              "mark": {"type": "text", "text": ".", "fontSize": 1, "opacity": 0, "align": "left", "baseline": "bottom", "dx": 0, "dy": 50},
              "encoding": {"x": {"datum": 0, "type": "quantitative", "axis": null}, "y": {"datum": 0, "type": "quantitative", "axis": null}}
            }
          ]
        },
        {
          "width": 311, "height": 234,
          "view": {"stroke": "#222", "strokeWidth": 1},
          "resolve": {"axis": {"x": "independent", "y": "independent"}},
          "layer": [
            {
              "data": {"name": "ncum"},
              "transform": [{"filter": "datum.mask === 'KQ75' && datum.series === 'radius = 30 deg'"}],
              "mark": {"type": "area", "color": "#8a8a8a", "opacity": 1, "clip": true},
              "encoding": {
                "x": {"field": "x", "type": "quantitative", "scale": {"domain": [0, 0.9424], "nice": false, "zero": true},
                  "axis": {"orient": "bottom", "values": [0, 0.1, 0.2, 0.3, 0.4, 0.5, 0.6, 0.7, 0.8, 0.9], "format": ".1f", "labelExpr": "round(datum.value*10) % 2 === 0 ? datum.label : ''", "tickSize": {"condition": {"test": "round(datum.value*10) % 2 === 0", "value": -6}, "value": -3}, "labelPadding": 11, "labelFontSize": 12, "title": "part of the circle pair not obscured by KQ75", "titleFont": "DejaVu Serif", "titleFontWeight": "normal", "titleFontSize": 13.7, "titleColor": "#1a1a1a", "titleAnchor": "start", "titleAlign": "left", "titlePadding": 0}},
                "y": {"field": "n", "type": "quantitative", "scale": {"domain": [0, 100], "nice": false},
                  "axis": {"orient": "left", "values": [0, 10, 20, 30, 40, 50, 60, 70, 80, 90, 100], "labelExpr": "datum.value % 20 === 0 ? datum.label : ''", "tickSize": {"condition": {"test": "datum.value % 20 === 0", "value": -6}, "value": -3}, "labelPadding": 12, "labelFontSize": 12, "title": null}}
              }
            },
            {
              "data": {"name": "ncum"},
              "transform": [{"filter": "datum.mask === 'KQ75' && datum.series === 'radius = 45 deg'"}],
              "mark": {"type": "area", "color": "#b9dfe3", "opacity": 1, "clip": true},
              "encoding": {"x": {"field": "x", "type": "quantitative", "axis": null}, "y": {"field": "n", "type": "quantitative", "axis": null}}
            },
            {
              "data": {"name": "ncum"},
              "transform": [{"filter": "datum.mask === 'KQ75' && datum.series === 'radius = 60 deg'"}],
              "mark": {"type": "area", "color": "#ff820f", "opacity": 1, "clip": true},
              "encoding": {"x": {"field": "x", "type": "quantitative", "axis": null}, "y": {"field": "n", "type": "quantitative", "axis": null}}
            },
            {
              "data": {"name": "ncum"},
              "transform": [{"filter": "datum.mask === 'KQ75'"}],
              "mark": {"type": "line", "strokeWidth": 1.3, "clip": true},
              "encoding": {
                "x": {"field": "x", "type": "quantitative", "axis": {"orient": "top", "values": [0, 0.1, 0.2, 0.3, 0.4, 0.5, 0.6, 0.7, 0.8, 0.9], "labels": false, "tickSize": {"condition": {"test": "round(datum.value*10) % 2 === 0", "value": -6}, "value": -3}, "title": null}},
                "y": {"field": "n", "type": "quantitative", "axis": {"orient": "right", "values": [0, 10, 20, 30, 40, 50, 60, 70, 80, 90, 100], "labels": false, "tickSize": {"condition": {"test": "datum.value % 20 === 0", "value": -6}, "value": -3}, "title": null}},
                "stroke": {"field": "series", "type": "nominal",
                  "scale": {"domain": ["radius = 30 deg", "radius = 45 deg", "radius = 60 deg"], "range": ["#1a1a1a", "#2a2aff", "#f02020"]},
                  "legend": {"title": null, "orient": "top-left", "offset": 13, "padding": 9, "rowPadding": 5.4, "labelOffset": 17.4, "symbolOffset": -1,
                    "encode": {"symbols": {"update": {"shape": {"value": "M-1.32,0H3.34"}, "fill": {"value": "transparent"}}}}}},
                "order": {"field": "x"}
              }
            },
            {
              "data": {"values": [{}]},
              "mark": {"type": "text", "text": "torus circle pairs / KQ75 mask", "fontSize": 13, "align": "center", "baseline": "middle", "dy": -23, "color": "#1a1a1a"},
              "encoding": {"x": {"datum": 0.49, "type": "quantitative", "axis": null}, "y": {"datum": 100, "type": "quantitative", "axis": null}}
            },
            {
              "data": {"values": [{}]},
              "mark": {"type": "text", "text": "N", "fontStyle": "italic", "fontSize": 16, "align": "center", "baseline": "middle", "dx": -40, "color": "#111"},
              "encoding": {"x": {"datum": 0, "type": "quantitative", "axis": null}, "y": {"datum": 91, "type": "quantitative", "axis": null}}
            },
            {
              "data": {"values": [{}]},
              "mark": {"type": "text", "text": "cum", "fontSize": 10, "align": "left", "baseline": "middle", "dx": -32, "dy": 4, "color": "#111"},
              "encoding": {"x": {"datum": 0, "type": "quantitative", "axis": null}, "y": {"datum": 91, "type": "quantitative", "axis": null}}
            },
            {
              "data": {"values": [{}]},
              "mark": {"type": "text", "text": "[%]", "fontSize": 13, "align": "center", "baseline": "middle", "dx": -23, "color": "#111"},
              "encoding": {"x": {"datum": 0, "type": "quantitative", "axis": null}, "y": {"datum": 71, "type": "quantitative", "axis": null}}
            },
            {
              "data": {"values": [{}]},
              "mark": {"type": "text", "text": ".", "fontSize": 1, "opacity": 0, "align": "left", "baseline": "top", "dx": -98, "dy": -47},
              "encoding": {"x": {"datum": 0, "type": "quantitative", "axis": null}, "y": {"datum": 100, "type": "quantitative", "axis": null}}
            }
          ]
        }
      ]
    }
  ]
}
